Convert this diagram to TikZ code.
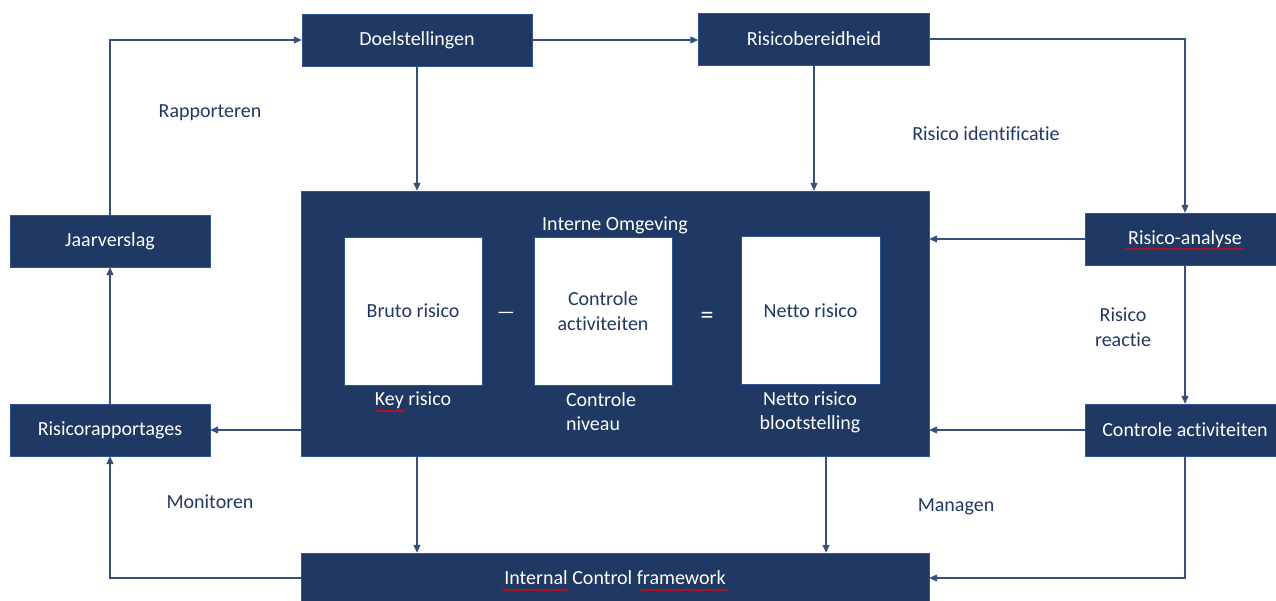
\documentclass[tikz,border=0pt]{standalone}
\usepackage{fontspec}
\setmainfont{Carlito}[Ligatures=NoCommon]
\usetikzlibrary{arrows.meta,decorations.pathmorphing}
\definecolor{navy}{HTML}{203864}
\definecolor{rim}{HTML}{2F5597}
\definecolor{wire}{HTML}{34507F}
\begin{document}
\begin{tikzpicture}[x=1pt,y=-1pt,
        box/.style={draw=rim,fill=navy,text=white,inner sep=0pt,minimum width=200pt,minimum height=52pt,font=\fontsize{20}{24}\selectfont},
        card/.style={draw=rim,fill=white,text=navy,inner sep=0pt,minimum width=138pt,minimum height=148pt,align=center,font=\fontsize{20}{25}\selectfont},
        inner/.style={text=white,align=center,font=\fontsize{20}{24}\selectfont},
        tag/.style={text=navy,align=center,font=\fontsize{20}{25}\selectfont},
        wire/.style={draw=wire,line width=1.1pt},
        arr/.style={wire,-{Triangle[length=8pt,width=7pt]}},
        typo/.style={draw=red,line width=.6pt,decorate,decoration={snake,segment length=2.5pt,amplitude=.8pt}}]
    \useasboundingbox (0,0) rectangle (1276,601);

    % outer boxes
    \node[box,minimum width=230pt] (doel) at (417,40) {Doelstellingen};
    \node[box,minimum width=231pt] (risico) at (814,39) {Risicobereidheid};
    \node[box] (jaar) at (110,241) {Jaarverslag};
    \node[box] (rapp) at (110,430) {Risicorapportages};
    \node[box] (analyse) at (1185,239) {Risico-analyse};
    \node[box] (ctrl) at (1185,430) {Controle activiteiten};
    \node[box,minimum width=628pt,minimum height=265pt] (interne) at (615,323.5) {};
    \node[box,minimum width=628pt,minimum height=50pt] (icf) at (615,578) {Internal Control framework};

    % inside the environment box
    \node[inner] (omg) at (615,225) {Interne Omgeving};
    \node[card] (bruto) at (413,311) {Bruto risico};
    \node[card] (act) at (603,311) {Controle\\activiteiten};
    \node[card,minimum width=139pt] (netto) at (810.5,310.5) {Netto risico};
    \node[inner] (min) at (506,315) {---};
    \node[inner,font=\fontsize{26}{26}\selectfont] (eq) at (707,318) {=};
    \node[inner] (key) at (413,400) {Key risico};
    \node[inner,align=left] (niv) at (601,412) {Controle\\niveau};
    \node[inner] (blo) at (810,412) {Netto risico\\blootstelling};

    % labels
    \node[tag] (l1) at (210,113) {Rapporteren};
    \node[tag] (l2) at (986,134) {Risico identificatie};
    \node[tag] (l3) at (1123,327) {Risico\\reactie};
    \node[tag] (l4) at (210,502) {Monitoren};
    \node[tag] (l5) at (956,507) {Managen};

    % connectors
    \coordinate (d2) at (826,456);
    \draw[arr] (jaar.north) |- (doel.west);
    \draw[arr] (doel.east) -- (doel.east -| risico.west);
    \draw[arr] (risico.east) -| (analyse.north);
    \draw[arr] (doel.south) -- (doel.south |- interne.north);
    \draw[arr] (risico.south) -- (risico.south |- interne.north);
    \draw[arr] (analyse.west) -- (analyse.west -| interne.east);
    \draw[arr] (analyse.south) -- (ctrl.north);
    \draw[arr] (ctrl.west) -- (ctrl.west -| interne.east);
    \draw[arr] (ctrl.south) |- (icf.east);
    \draw[arr] (rapp.east -| interne.west) -- (rapp.east);
    \draw[arr] (rapp.north) -- (jaar.south);
    \draw[arr] (icf.west) -| (rapp.south);
    \draw[arr] (doel.south |- interne.south) -- (doel.south |- icf.north);
    \draw[arr] (d2) -- (d2 |- icf.north);

    % spelling marks
    \draw[typo] (375,411) -- (405,411);
    \draw[typo] (1126,249) -- (1243,249);
    \draw[typo] (502,590) -- (568,590);
    \draw[typo] (639,590) -- (728,590);
\end{tikzpicture}
\end{document}
